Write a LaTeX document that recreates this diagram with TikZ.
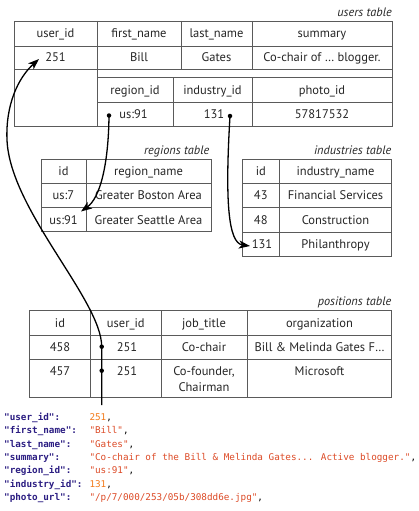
\documentclass[tikz,border=0pt]{standalone}
\usepackage{fontspec}
\setmainfont{PT Sans}
\newfontfamily\jsonfont{DejaVu Sans Mono}
\usetikzlibrary{arrows.meta}
\definecolor{tblline}{HTML}{5A5A5A}
\definecolor{keyc}{HTML}{2B1D82}
\definecolor{numc}{HTML}{F27A1A}
\definecolor{strc}{HTML}{DC4A26}
\tikzset{
  tbl/.style={draw=tblline, line width=0.8pt},
  cell/.style={anchor=base, inner sep=0pt, font=\fontsize{12.5}{14}\selectfont, text=black!85},
  lbl/.style={anchor=base east, inner sep=0pt, font=\fontsize{12.3}{14}\selectfont\itshape, text=black!85},
  jkey/.style={anchor=base west, inner sep=0pt, font=\jsonfont\bfseries\fontsize{9.3}{11}\selectfont, text=keyc},
  jval/.style={anchor=base west, inner sep=0pt, font=\jsonfont\fontsize{9.3}{11}\selectfont},
  link/.style={line width=1.3pt, draw=black},
  tip/.style={-{Stealth[length=11pt,width=8pt,inset=3pt]}},
  dotn/.style={circle, fill=black, inner sep=0pt, minimum size=4.5pt},
}
\begin{document}
\begin{tikzpicture}[x=1pt,y=-1pt]
\useasboundingbox (0,0) rectangle (418,511);
% ---------- users table ----------
\node[lbl] (ulbl) at (392,17) {users table};
\draw[tbl] (14,21) rectangle (392,126);
\draw[tbl] (14,46) -- (392,46);
\draw[tbl] (14,69) -- (392,69);
\draw[tbl] (97,77.3) -- (392,77.3);
\draw[tbl] (97,102.3) -- (392,102.3);
\draw[tbl] (97,21) -- (97,126);
\draw[tbl] (181,21) -- (181,69);
\draw[tbl] (252,21) -- (252,69);
\draw[tbl] (173,77.3) -- (173,126);
\draw[tbl] (252,77.3) -- (252,126);
\node[cell] (uh1) at (55.5,37.8) {user\_id};
\node[cell] (uh2) at (139,37.8) {first\_name};
\node[cell] (uh3) at (216.5,37.8) {last\_name};
\node[cell] (uh4) at (322,37.8) {summary};
\node[cell] (uv1) at (55.5,61.8) {251};
\node[cell] (uv2) at (139,61.8) {Bill};
\node[cell] (uv3) at (216.5,61.8) {Gates};
\node[cell] (uv4) at (322,61.8) {Co-chair of … blogger.};
\node[cell] (uh5) at (135,94.3) {region\_id};
\node[cell] (uh6) at (212.5,94.3) {industry\_id};
\node[cell] (uh7) at (322,94.3) {photo\_id};
\node[cell] (uv5) at (133.5,118.3) {us:91};
\node[cell] (uv6) at (214,118.3) {131};
\node[cell] (uv7) at (322,118.3) {57817532};
\node[dotn] (rdot) at (109,115.5) {};
\node[dotn] (idot) at (230,116) {};
\coordinate (utgt) at (39,59);
% ---------- regions table ----------
\node[lbl] (rlbl) at (209.5,154) {regions table};
\draw[tbl] (41,159.3) rectangle (211,231.7);
\draw[tbl] (41,183.3) -- (211,183.3);
\draw[tbl] (41,207.7) -- (211,207.7);
\draw[tbl] (86,159.3) -- (86,231.7);
\node[cell] (rh1) at (63.5,175.6) {id};
\node[cell] (rh2) at (148.5,175.6) {region\_name};
\node[cell] (r11) at (63.5,199.8) {us:7};
\node[cell] (r12) at (148.5,199.8) {Greater Boston Area};
\node[cell] (r21) at (63.5,224) {us:91};
\node[cell] (r22) at (148.5,224) {Greater Seattle Area};
\coordinate (rtgt) at (81,211.5);
% ---------- industries table ----------
\node[lbl] (ilbl) at (391.5,154) {industries table};
\draw[tbl] (242.3,159.3) rectangle (391.7,256.7);
\draw[tbl] (242.3,183.3) -- (391.7,183.3);
\draw[tbl] (242.3,207.7) -- (391.7,207.7);
\draw[tbl] (242.3,232.3) -- (391.7,232.3);
\draw[tbl] (279.3,159.3) -- (279.3,256.7);
\node[cell] (ih1) at (260.8,175.6) {id};
\node[cell] (ih2) at (335.5,175.6) {industry\_name};
\node[cell] (i11) at (260.8,199.8) {43};
\node[cell] (i12) at (335.5,199.8) {Financial Services};
\node[cell] (i21) at (260.8,224.3) {48};
\node[cell] (i22) at (335.5,224.3) {Construction};
\node[cell] (i31) at (262,248.8) {131};
\node[cell] (i32) at (335.5,248.8) {Philanthropy};
\coordinate (itgt) at (250,246);
% ---------- positions table ----------
\node[lbl] (plbl) at (391.5,305.7) {positions table};
\draw[tbl] (29.3,310.7) rectangle (391.7,397.7);
\draw[tbl] (29.3,335) -- (391.7,335);
\draw[tbl] (29.3,359) -- (391.7,359);
\draw[tbl] (90.7,310.7) -- (90.7,397.7);
\draw[tbl] (161,310.7) -- (161,397.7);
\draw[tbl] (247.3,310.7) -- (247.3,397.7);
\node[cell] (ph1) at (60,327.1) {id};
\node[cell] (ph2) at (125.8,327.1) {user\_id};
\node[cell] (ph3) at (204,327.1) {job\_title};
\node[cell] (ph4) at (319.5,327.1) {organization};
\node[cell] (p11) at (60,351.3) {458};
\node[cell] (p12) at (127,351.3) {251};
\node[cell] (p13) at (204,351.3) {Co-chair};
\node[cell] (p14) at (319.5,351.3) {Bill \& Melinda Gates F…};
\node[cell] (p21) at (60,375) {457};
\node[cell] (p22) at (127,375) {251};
\node[cell] (p23) at (204,375) {Co-founder,};
\node[cell] (p23b) at (204,391.3) {Chairman};
\node[cell] (p24) at (319.5,375) {Microsoft};
\node[dotn] (pdot1) at (101.7,346.7) {};
\node[dotn] (pdot2) at (101.7,370.7) {};
\coordinate (jtop) at (101.7,405);
% ---------- JSON ----------
\node[jkey] (k1) at (4,420.2) {"user\_id":};
\node[jkey] (k2) at (4,433.6) {"first\_name":};
\node[jkey] (k3) at (4,447.0) {"last\_name":};
\node[jkey] (k4) at (4,460.5) {"summary":};
\node[jkey] (k5) at (4,473.9) {"region\_id":};
\node[jkey] (k6) at (4,487.3) {"industry\_id":};
\node[jkey] (k7) at (4,500.7) {"photo\_url":};
\node[jval] (v1) at (89.3,420.2) {\textcolor{numc}{251},};
\node[jval] (v2) at (89.3,433.6) {\textcolor{strc}{"Bill"},};
\node[jval] (v3) at (89.3,447.0) {\textcolor{strc}{"Gates"},};
\node[jval] (v4) at (89.3,460.5) {\textcolor{strc}{"Co-chair of the Bill \& Melinda Gates... Active blogger."},};
\node[jval] (v5) at (89.3,473.9) {\textcolor{strc}{"us:91"},};
\node[jval] (v6) at (89.3,487.3) {\textcolor{numc}{131},};
\node[jval] (v7) at (89.3,500.7) {\textcolor{strc}{"/p/7/000/253/05b/308dd6e.jpg"},};
% ---------- connectors ----------
\draw[link,tip] (jtop) -- (pdot2.center) -- (pdot1.center)
  .. controls (101.7,300) and (10,210) .. (7,140)
  .. controls (5.5,105) and (18,78) .. (utgt);
\draw[link,tip] (rdot.center) .. controls (108.5,165) and (100,198) .. (rtgt);
\draw[link,tip] (idot.center) .. controls (225,200) and (228,243) .. (itgt);
\end{tikzpicture}
\end{document}
